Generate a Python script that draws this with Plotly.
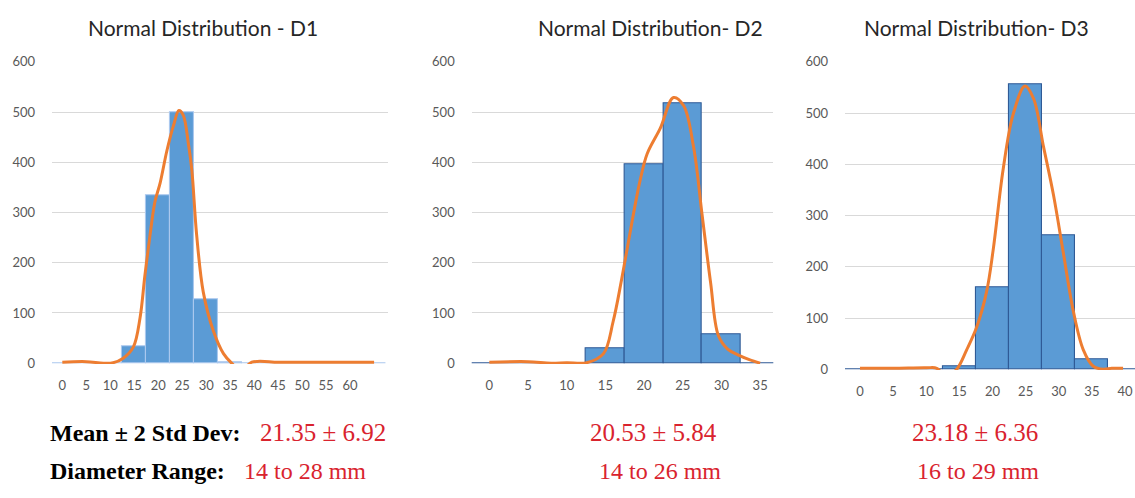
import plotly.graph_objects as go

# ---------------- data ----------------
titles = ["Normal Distribution - D1", "Normal Distribution- D2", "Normal Distribution- D3"]

d1_bins = [0, 5, 10, 15, 20, 25, 30, 35, 40, 45, 50, 55, 60, 65]
d1_counts = [0, 0, 0, 33, 335, 500, 127, 2, 0, 0, 0, 0, 0, 0]
d1_curve_x = [0, 5, 8.6, 10.6, 12.7, 14.8, 16.2, 17.2, 18.3, 19.3, 20.4, 21.8, 23.2, 24.3,
              25.2, 26.3, 27.0, 28.0, 29.4, 31.5, 33.6, 35.3, 37.3, 39.5, 45, 50, 55, 60, 65]
d1_curve_y = [2, 3, 0, 1, 10, 32, 90, 173, 256, 321, 359, 423, 474, 503,
              494, 436, 385, 256, 141, 64, 19, 0, -15, 2, 2, 2, 2, 2, 2]

d2_bins = [0, 5, 10, 15, 20, 25, 30, 35]
d2_counts = [0, 0, 0, 30, 395, 517, 57, 0]
d2_curve_x = [0, 5, 8, 10, 12.6, 14.75, 16.0, 17.1, 18.6, 19.5, 20.4, 22.1, 23.8, 25.1,
              26.4, 27.5, 28.6, 29.6, 30.8, 32.2, 33.6, 35.0]
d2_curve_y = [2, 3, 0, 1, 1, 19, 83, 167, 295, 365, 417, 468, 529, 513,
              430, 295, 160, 55, 28, 16, 7, 0]

d3_bins = [0, 5, 10, 15, 20, 25, 30, 35, 40]
d3_counts = [0, 0, 0, 6, 160, 556, 261, 19, 0]
d3_curve_x = [0, 5, 10, 11.6, 13.0, 14.6, 16.1, 17.6, 19.1, 20.1, 21.6, 23.1, 24.9, 26.2,
              27.7, 29.2, 30.7, 32.2, 33.7, 35.2, 36.7, 38.0, 39.7]
d3_curve_y = [2, 2, 3, 2, -15, 0, 38, 82, 151, 233, 390, 497, 553, 528,
              434, 340, 226, 113, 38, 6, 0, 2, 2]

x_ticks = [[0, 5, 10, 15, 20, 25, 30, 35, 40, 45, 50, 55, 60],
           [0, 5, 10, 15, 20, 25, 30, 35],
           [0, 5, 10, 15, 20, 25, 30, 35, 40]]
y_ticks = [0, 100, 200, 300, 400, 500, 600]

stat_label = "Mean \u00b1 2 Std Dev:"
range_label = "Diameter Range:"
stat_values = ["21.35 \u00b1 6.92", "20.53 \u00b1 5.84", "23.18 \u00b1 6.36"]
range_values = ["14 to 28 mm", "14 to 26 mm", "16 to 29 mm"]

# ---------------- figure ----------------
W, H = 1135, 498
BLUE = "#5B9BD5"
ORANGE = "#ED7D31"
GRID = "#D9D9D9"
TICK = "#595959"
RED = "#D9232E"

fig = go.Figure()

bins = [d1_bins, d2_bins, d3_bins]
counts = [d1_counts, d2_counts, d3_counts]
cx = [d1_curve_x, d2_curve_x, d3_curve_x]
cy = [d1_curve_y, d2_curve_y, d3_curve_y]
edge = ["rgba(170,200,238,1)", "#2F5A96", "#2F5A96"]

for i in range(3):
    xa = "x" if i == 0 else f"x{i+1}"
    ya = "y" if i == 0 else f"y{i+1}"
    fig.add_trace(go.Bar(x=bins[i], y=counts[i], width=5, xaxis=xa, yaxis=ya,
                         marker=dict(color=BLUE, line=dict(color=edge[i], width=1.1)),
                         showlegend=False, hoverinfo="x+y"))
    fig.add_trace(go.Scatter(x=cx[i], y=cy[i], mode="lines", xaxis=xa, yaxis=ya,
                             line=dict(color=ORANGE, width=3, shape="spline", smoothing=1.0),
                             showlegend=False, hoverinfo="skip"))

# pixel geometry of plot areas
x_px = [(52, 388), (471.7, 773.3), (845, 1135)]
y_px = [(55, 367), (55, 367), (55, 373.3)]
x_ranges = [[-2.15, 67.9], [-2.28, 36.7], [-2.26, 41.5]]

layout = dict(width=W, height=H, margin=dict(l=0, r=0, t=0, b=0),
              paper_bgcolor="white", plot_bgcolor="white", bargap=0)
for i in range(3):
    sfx = "" if i == 0 else str(i + 1)
    x0, x1 = x_px[i]
    yt, yb = y_px[i]
    layout["xaxis" + sfx] = dict(
        domain=[x0 / W, x1 / W], range=x_ranges[i], anchor="y" + sfx,
        tickvals=x_ticks[i], showgrid=False, zeroline=False, showline=False,
        ticks="", ticklabelstandoff=12,
        tickfont=dict(family="Lato", size=13, color=TICK), fixedrange=True)
    layout["yaxis" + sfx] = dict(
        domain=[(H - yb) / H, (H - yt) / H], range=[-1.5, 601], anchor="x" + sfx,
        tickvals=y_ticks, showgrid=True, gridcolor=GRID, gridwidth=1,
        zeroline=False, showline=False, ticks="", ticklabelstandoff=16,
        tickfont=dict(family="Lato", size=13, color=TICK), fixedrange=True)
fig.update_layout(**layout)

annotations = []
title_cx = [203, 650, 976]
for i in range(3):
    annotations.append(dict(text=titles[i], x=title_cx[i] / W, y=1 - 20 / H,
                            xref="paper", yref="paper", xanchor="center", yanchor="middle",
                            showarrow=False, font=dict(family="Lato", size=21, color="#262626")))

serif = "Liberation Serif"
annotations.append(dict(text="<b>" + stat_label + "</b>", x=48 / W, y=1 - 438 / H,
                        xref="paper", yref="paper", xanchor="left", yanchor="middle",
                        showarrow=False, font=dict(family=serif, size=24, color="black")))
annotations.append(dict(text="<b>" + range_label + "</b>", x=48 / W, y=1 - 477 / H,
                        xref="paper", yref="paper", xanchor="left", yanchor="middle",
                        showarrow=False, font=dict(family=serif, size=24, color="black")))
stat_x = [258, 588, 910]
range_x = [242, 597, 915]
for i in range(3):
    annotations.append(dict(text=stat_values[i], x=stat_x[i] / W, y=1 - 438 / H,
                            xref="paper", yref="paper", xanchor="left", yanchor="middle",
                            showarrow=False, font=dict(family=serif, size=25, color=RED)))
    annotations.append(dict(text=range_values[i], x=range_x[i] / W, y=1 - 477 / H,
                            xref="paper", yref="paper", xanchor="left", yanchor="middle",
                            showarrow=False, font=dict(family=serif, size=24, color=RED)))
fig.update_layout(annotations=annotations)

fig.write_html("out.html",
               config={"displayModeBar": False},
               post_script="document.body.style.margin='0';document.body.style.overflow='hidden';")
